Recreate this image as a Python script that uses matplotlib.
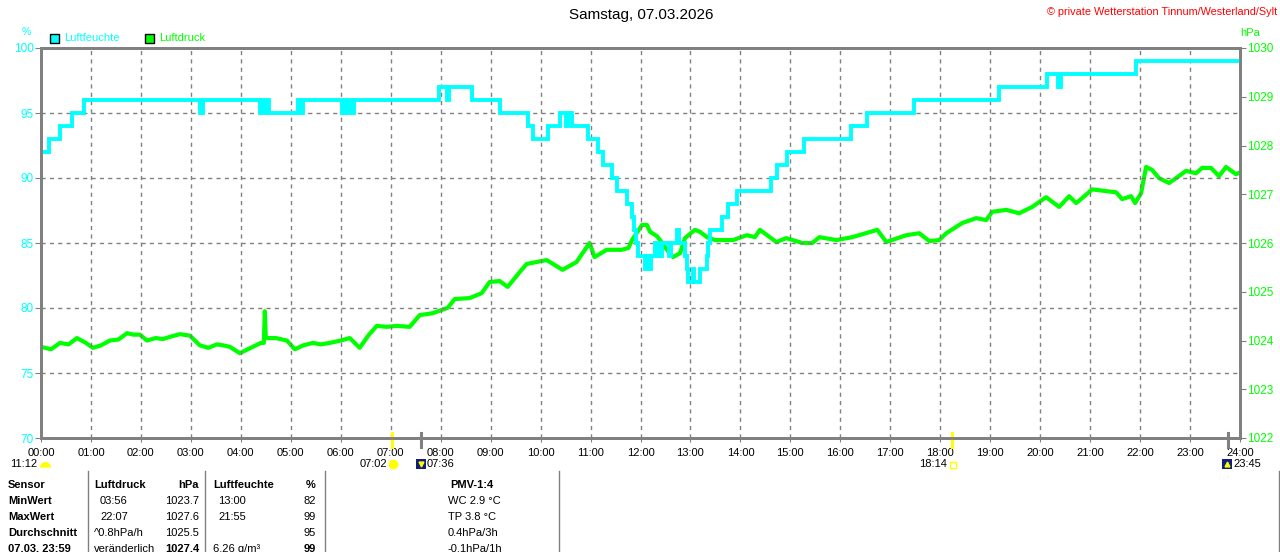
import matplotlib
matplotlib.use("Agg")
import matplotlib.pyplot as plt
from matplotlib.patches import Rectangle
from matplotlib.lines import Line2D

plt.rcParams['font.family'] = ['Liberation Sans', 'DejaVu Sans']

# humidity (%), step data: time in hours, value
hum_t = [0, 0.17, 0.38, 0.62, 0.86, 3.18, 3.24, 4.38, 4.42, 4.48, 4.52, 4.56,
         5.14, 5.19, 5.24, 6.02, 6.08, 6.12, 6.18, 6.22, 6.26, 7.96, 8.12, 8.17,
         8.62, 9.18, 9.74, 9.84, 10.14, 10.38, 10.5, 10.54, 10.62, 10.94, 11.14,
         11.24, 11.43, 11.53, 11.73, 11.83, 11.86, 11.9, 11.95, 12.09, 12.13,
         12.18, 12.22, 12.29, 12.33, 12.37, 12.4, 12.43, 12.58, 12.61, 12.74,
         12.77, 12.89, 12.93, 12.96, 13.05, 13.08, 13.19, 13.33, 13.36, 13.39,
         13.63, 13.75, 13.93, 14.62, 14.74, 14.94, 15.28, 16.22, 16.54, 17.48,
         19.18, 20.14, 20.36, 20.41, 21.92, 24]
hum_v = [92, 93, 94, 95, 96, 95, 96, 95, 96, 95, 96, 95,
         96, 95, 96, 95, 96, 95, 96, 95, 96, 97, 96, 97,
         96, 95, 94, 93, 94, 95, 94, 95, 94, 93, 92,
         91, 90, 89, 88, 87, 86, 85, 84, 83, 84,
         83, 84, 85, 84, 85, 84, 85, 84, 85, 86,
         85, 84, 83, 82, 83, 82, 83, 84, 85, 86,
         87, 88, 89, 90, 91, 92, 93, 94, 95, 96,
         97, 98, 97, 98, 99, 99]

# pressure (hPa)
pres_t = [0.00, 0.20, 0.38, 0.55, 0.72, 0.90, 1.04, 1.20, 1.38, 1.55, 1.72, 1.85,
          1.98, 2.12, 2.30, 2.44, 2.60, 2.78, 2.98, 3.18, 3.35, 3.52, 3.65, 3.78,
          3.98, 4.10, 4.24, 4.40, 4.46, 4.48, 4.50, 4.70, 4.92, 5.08, 5.25, 5.44,
          5.60, 5.78, 6.00, 6.18, 6.38, 6.55, 6.72, 6.92, 7.12, 7.38, 7.58, 7.84,
          8.14, 8.28, 8.58, 8.82, 8.98, 9.18, 9.34, 9.58, 9.72, 10.12, 10.44, 10.72,
          10.98, 11.08, 11.32, 11.62, 11.76, 11.83, 12.03, 12.13, 12.19, 12.33, 12.39,
          12.53, 12.65, 12.79, 12.89, 13.09, 13.19, 13.33, 13.49, 13.85, 14.13, 14.29,
          14.39, 14.72, 14.92, 15.24, 15.44, 15.58, 15.92, 16.24, 16.74, 16.92, 17.32,
          17.58, 17.78, 17.98, 18.12, 18.44, 18.72, 18.92, 19.04, 19.32, 19.58, 19.84,
          20.12, 20.38, 20.58, 20.72, 20.84, 21.04, 21.52, 21.64, 21.82, 21.90, 22.02,
          22.12, 22.24, 22.38, 22.58, 22.72, 22.92, 23.12, 23.24, 23.42, 23.58, 23.72,
          23.92, 24.00]
pres_v = [1023.87, 1023.82, 1023.95, 1023.92, 1024.05, 1023.95, 1023.85, 1023.9, 1024.0,
          1024.02, 1024.15, 1024.12, 1024.12, 1024.0, 1024.05, 1024.03, 1024.08, 1024.13,
          1024.1, 1023.9, 1023.85, 1023.92, 1023.9, 1023.87, 1023.74, 1023.8, 1023.87,
          1023.95, 1023.95, 1024.6, 1024.05, 1024.05, 1024.0, 1023.82, 1023.9, 1023.95,
          1023.92, 1023.95, 1024.0, 1024.05, 1023.85, 1024.1, 1024.3, 1024.28, 1024.3,
          1024.28, 1024.52, 1024.56, 1024.67, 1024.85, 1024.87, 1024.97, 1025.2, 1025.22,
          1025.1, 1025.4, 1025.57, 1025.65, 1025.45, 1025.61, 1026.0, 1025.71, 1025.86,
          1025.86, 1025.9, 1026.06, 1026.37, 1026.37, 1026.23, 1026.14, 1026.06, 1025.86,
          1025.71, 1025.79, 1026.1, 1026.27, 1026.23, 1026.12, 1026.06, 1026.06, 1026.16,
          1026.12, 1026.27, 1026.02, 1026.1, 1026.0, 1026.0, 1026.12, 1026.06, 1026.12,
          1026.27, 1026.02, 1026.16, 1026.2, 1026.04, 1026.06, 1026.2, 1026.41, 1026.51,
          1026.47, 1026.64, 1026.68, 1026.61, 1026.74, 1026.94, 1026.74, 1026.96, 1026.82,
          1026.92, 1027.1, 1027.04, 1026.9, 1026.96, 1026.82, 1027.02, 1027.56, 1027.5,
          1027.33, 1027.23, 1027.33, 1027.48, 1027.43, 1027.54, 1027.54, 1027.37, 1027.56,
          1027.41, 1027.45]

hours = list(range(25))
hour_labels = ["%02d:00" % h for h in hours]
hum_ticks = [70, 75, 80, 85, 90, 95, 100]
pres_ticks = list(range(1022, 1031))

# sun / moon events (hours)
sunrise, sunset = 7 + 2 / 60, 18 + 14 / 60
moonset, moonrise = 7 + 36 / 60, 23 + 45 / 60

table_rows = [
    ["Sensor", "Luftdruck", "hPa", "Luftfeuchte", "%", "PMV-1:4"],
    ["MinWert", "03:56", "1023.7", "13:00", "82", "WC 2.9 °C"],
    ["MaxWert", "22:07", "1027.6", "21:55", "99", "TP 3.8 °C"],
    ["Durchschnitt", "^0.8hPa/h", "1025.5", "", "95", "0.4hPa/3h"],
    ["07.03. 23:59", "veränderlich", "1027.4", "6.26 g/m³", "99", "-0.1hPa/1h"],
]

W, H = 1280, 552
CYAN = "#00ffff"
GREEN = "#00ff00"
GRAY = "#808080"
YELLOW = "#ffff00"
NAVY = "#10207a"


def fx(x):
    return x / W


def fy(y):
    return 1 - y / H


fig = plt.figure(figsize=(W / 100, H / 100), dpi=100)
ax = fig.add_axes([fx(41), fy(438), 1199 / W, 390 / H])
ax2 = ax.twinx()

ax.step(hum_t, hum_v, where="post", color=CYAN, lw=2.8, solid_joinstyle="miter")
ax2.plot(pres_t, pres_v, color=GREEN, lw=3)

ax.set_xlim(0, 24)
ax.set_ylim(70, 100)
ax2.set_ylim(1022, 1030)
ax.set_xticks(hours)
ax.set_xticklabels(hour_labels)
ax.set_yticks(hum_ticks)
ax2.set_yticks(pres_ticks)
ax.grid(True, color=GRAY, linestyle=(0, (3, 3)), lw=1)
ax.set_axisbelow(True)

ax.tick_params(axis="x", colors=GRAY, labelcolor="black", labelsize=8, length=3, pad=4)
ax.tick_params(axis="y", colors=GRAY, labelcolor=CYAN, labelsize=8.5, length=4, pad=1)
ax2.tick_params(axis="y", colors=GRAY, labelcolor=GREEN, labelsize=8.5, length=4, pad=1)
for a in (ax, ax2):
    for s in a.spines.values():
        s.set_color(GRAY)
        s.set_linewidth(2)

# humidity line on top of pressure line
ax.set_zorder(ax2.get_zorder() + 1)
ax.patch.set_visible(False)

# sun / moon markers on the time axis
trans = ax.get_xaxis_transform()
for t, c in [(sunrise, YELLOW), (sunset, YELLOW), (moonset, GRAY), (moonrise, GRAY)]:
    ax.plot([t, t], [-0.023, 0.013], color=c, lw=2.2, transform=trans, clip_on=False)

# title and header texts
fig.text(fx(641), fy(15), "Samstag, 07.03.2026", ha="center", va="center", fontsize=11)
fig.text(fx(1277), fy(12), "© private Wetterstation Tinnum/Westerland/Sylt",
         ha="right", va="center", fontsize=7.8, color="red")
fig.text(fx(26), fy(32), "%", ha="center", va="center", fontsize=7.5, color=CYAN)
fig.text(fx(1250), fy(33), "hPa", ha="center", va="center", fontsize=8, color=GREEN)

# legend
for x0, col, lab in [(50, CYAN, "Luftfeuchte"), (145, GREEN, "Luftdruck")]:
    fig.patches.append(Rectangle((fx(x0), fy(43)), 9 / W, 9 / H, transform=fig.transFigure,
                                 facecolor=col, edgecolor="black", lw=1))
    fig.text(fx(x0 + 14), fy(38), lab, ha="left", va="center", fontsize=8, color=col)

# sun / moon labels below the axis
ly = 464
fig.text(fx(10), fy(ly), "11:12", ha="left", va="center", fontsize=8)
fig.text(fx(387), fy(ly), "07:02", ha="right", va="center", fontsize=8)
fig.text(fx(427), fy(ly), "07:36", ha="left", va="center", fontsize=8)
fig.text(fx(947), fy(ly), "18:14", ha="right", va="center", fontsize=8)
fig.text(fx(1233), fy(ly), "23:45", ha="left", va="center", fontsize=8)
fig.add_artist(Line2D([fx(45)], [fy(ly + 3)], marker="o", ms=8, fillstyle="top",
                      mfc=YELLOW, mfcalt="none", mec="none", transform=fig.transFigure))
fig.add_artist(Line2D([fx(393)], [fy(ly)], marker="o", ms=6, color=YELLOW,
                      transform=fig.transFigure))
fig.add_artist(Line2D([fx(953)], [fy(ly + 1)], marker="s", ms=4, mfc="none", mec=YELLOW,
                      transform=fig.transFigure))
for xm, arrow in ((421, "v"), (1227, "^")):
    fig.patches.append(Rectangle((fx(xm - 5), fy(ly + 5)), 10 / W, 10 / H,
                                 transform=fig.transFigure, facecolor=NAVY, edgecolor="none"))
    fig.add_artist(Line2D([fx(xm)], [fy(ly)], marker=arrow, ms=3.5, color=YELLOW,
                          transform=fig.transFigure))

# bottom table
row_y = [485, 501, 517, 533, 549]
for i, row in enumerate(table_rows):
    y = fy(row_y[i])
    head = i == 0
    fig.text(fx(8), y, row[0], ha="left", va="center", fontsize=8, fontweight="bold")
    fig.text(fx(94) if i in (0, 3, 4) else fx(100), y, row[1], ha="left", va="center",
             fontsize=8, fontweight="bold" if head else "normal")
    fig.text(fx(199), y, row[2], ha="right", va="center", fontsize=8,
             fontweight="bold" if i in (0, 4) else "normal")
    fig.text(fx(213) if i in (0, 4) else fx(218), y, row[3], ha="left", va="center",
             fontsize=8, fontweight="bold" if head else "normal")
    fig.text(fx(316), y, row[4], ha="right", va="center", fontsize=8,
             fontweight="bold" if i in (0, 4) else "normal")
    if head:
        fig.text(fx(472), y, row[5], ha="center", va="center", fontsize=8, fontweight="bold")
    else:
        fig.text(fx(448), y, row[5], ha="left", va="center", fontsize=8)

for xs in (88, 205, 325, 559, 1279):
    fig.add_artist(Line2D([fx(xs), fx(xs)], [fy(471), fy(552)], color=GRAY, lw=1,
                          transform=fig.transFigure))

fig.savefig("out.png", dpi=100)
